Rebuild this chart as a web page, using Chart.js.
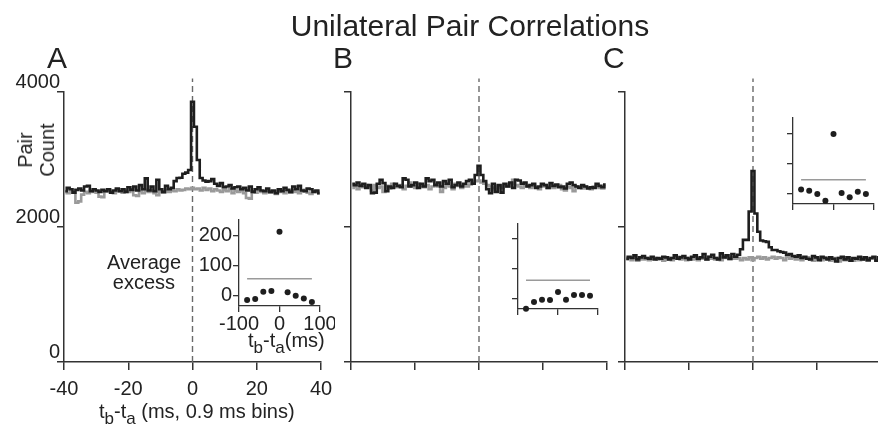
<!DOCTYPE html>
<html>
<head>
<meta charset="utf-8">
<script src="https://cdn.jsdelivr.net/npm/chart.js@4.4.1/dist/chart.umd.min.js"></script>
<style>
  html, body { margin: 0; padding: 0; background: #fff; }
  #fig { position: relative; width: 878px; height: 425px; overflow: hidden; background: #fff;
         font-family: "Liberation Sans", Arial, sans-serif; color: #222; }
  #fig canvas { position: absolute; }
  .txt { position: absolute; white-space: nowrap; line-height: 1; }
  .txt sub { font-size: 17px; vertical-align: -6px; line-height: 0; }
</style>
</head>
<body>
<div id="fig">
  <canvas id="mainA" width="340" height="425" style="left:0px;top:0px"></canvas>
  <canvas id="mainB" width="320" height="425" style="left:300px;top:0px"></canvas>
  <canvas id="mainC" width="320" height="425" style="left:580px;top:0px"></canvas>
  <canvas id="insetA" width="150" height="160" style="left:185px;top:200px"></canvas>
  <canvas id="insetB" width="130" height="110" style="left:490px;top:210px"></canvas>
  <canvas id="insetC" width="108" height="110" style="left:770px;top:105px"></canvas>

  <div class="txt" style="left:470px;top:11px;font-size:30px;transform:translateX(-50%)">Unilateral Pair Correlations</div>
  <div class="txt" style="left:47px;top:43px;font-size:30px">A</div>
  <div class="txt" style="left:333px;top:43px;font-size:30px">B</div>
  <div class="txt" style="left:603px;top:43px;font-size:30px">C</div>
  <div class="txt" style="left:36px;top:150px;font-size:20px;line-height:22px;text-align:center;transform:translate(-50%,-50%) rotate(-90deg)">Pair<br>Count</div>
  <div class="txt" style="left:144px;top:252px;font-size:20px;line-height:20px;text-align:center;transform:translateX(-50%)">Average<br>excess</div>
  <div class="txt" style="left:248px;top:330px;font-size:20px">t<sub>b</sub>-t<sub>a</sub>(ms)</div>
  <div class="txt" style="left:99px;top:401px;font-size:20px">t<sub>b</sub>-t<sub>a</sub> (ms, 0.9 ms bins)</div>
</div>

<script>
// bins are 0.9 ms wide, centred on 0, from -39.6 to 39.6 ms (89 bins)
const BIN_MS = 0.9;
const lagTicks = [-40, -20, 0, 20, 40];
const countTicks = [0, 2000, 4000];
const DASH_TOP = 4200;   // dashed zero line runs a bit above the 4000 tick

// pair counts, left to right
const countsA = [
  2530, 2580, 2560, 2510, 2550, 2570, 2540, 2600, 2610, 2530,
  2560, 2540, 2520, 2550, 2530, 2560, 2510, 2540, 2570, 2530,
  2560, 2520, 2590, 2550, 2600, 2540, 2620, 2560, 2720, 2540,
  2600, 2530, 2700, 2560, 2520, 2610, 2560, 2580,
  2680, 2726, 2730, 2790, 2805, 2844, 3856, 3486, 2993, 2726, 2690, 2672, 2680, 2710,
  2640, 2610, 2650, 2590, 2600, 2620, 2570, 2590, 2600, 2560,
  2580, 2540, 2600, 2520, 2560, 2590, 2540, 2530, 2570, 2520,
  2540, 2500, 2560, 2530, 2580, 2550, 2520, 2600, 2560, 2610,
  2540, 2530, 2570, 2560, 2520, 2540, 2500
];
const shuffledA = [
  2520, 2500, 2540, 2510, 2360, 2380, 2480, 2520, 2500, 2540,
  2520, 2510, 2450, 2440, 2530, 2540, 2520, 2500, 2550, 2530,
  2510, 2540, 2520, 2560, 2470, 2460, 2530, 2500, 2550, 2520,
  2540, 2500, 2470, 2530, 2510, 2550, 2520, 2540, 2530, 2560,
  2540, 2550, 2570, 2560, 2580, 2560, 2570, 2540, 2580, 2550,
  2570, 2530, 2560, 2540, 2520, 2550, 2530, 2560, 2500, 2540,
  2520, 2540, 2500, 2430, 2420, 2530, 2510, 2540, 2520, 2500,
  2540, 2510, 2530, 2490, 2520, 2550, 2500, 2530, 2510, 2540,
  2520, 2500, 2530, 2550, 2510, 2490, 2530, 2520, 2500
];
const countsB = [
  2640, 2620, 2660, 2610, 2640, 2580, 2620, 2500, 2510, 2640,
  2700, 2650, 2530, 2600, 2580, 2640, 2610, 2590, 2720, 2700,
  2600, 2620, 2660, 2580, 2640, 2600, 2720, 2680, 2700, 2620,
  2660, 2600, 2680, 2640, 2700, 2590, 2620, 2660, 2600, 2640,
  2680, 2700, 2640, 2770, 2908, 2770, 2680, 2560, 2500, 2640,
  2520, 2620, 2510, 2640, 2600, 2660, 2580, 2700, 2690, 2640,
  2660, 2600, 2620, 2640, 2580, 2600, 2640, 2620, 2580, 2650,
  2610, 2630, 2590, 2600, 2570, 2640, 2660, 2620, 2600, 2580,
  2620, 2600, 2570, 2590, 2580, 2640, 2610, 2590, 2630
];
const shuffledB = [
  2580, 2600, 2560, 2610, 2590, 2620, 2600, 2540, 2620, 2580,
  2600, 2520, 2610, 2570, 2640, 2590, 2600, 2620, 2560, 2610,
  2660, 2600, 2580, 2640, 2610, 2590, 2620, 2560, 2600, 2630,
  2600, 2520, 2580, 2620, 2600, 2560, 2640, 2610, 2580, 2620,
  2600, 2630, 2660, 2680, 2690, 2660, 2640, 2620, 2600, 2580,
  2560, 2600, 2580, 2620, 2600, 2640, 2700, 2620, 2600, 2580,
  2620, 2600, 2580, 2610, 2590, 2560, 2600, 2620, 2580, 2600,
  2580, 2600, 2620, 2560, 2540, 2600, 2580, 2530, 2600, 2590,
  2570, 2600, 2580, 2560, 2600, 2610, 2580, 2570, 2600
];
const countsC = [
  1530, 1560, 1540, 1580, 1520, 1550, 1570, 1540, 1530, 1560,
  1520, 1540, 1530, 1560, 1550, 1520, 1540, 1580, 1530, 1550,
  1570, 1540, 1520, 1560, 1580, 1530, 1550, 1600, 1520, 1560,
  1590, 1540, 1520, 1610, 1550, 1580, 1530, 1600, 1560, 1590,
  1670, 1810, 1810, 2230, 2830, 2200, 1930, 1800, 1790, 1780,
  1700, 1660, 1660, 1640, 1630, 1620, 1590, 1600, 1570, 1560,
  1580, 1540, 1560, 1530, 1520, 1570, 1550, 1510, 1560, 1540,
  1520, 1550, 1530, 1490, 1540, 1560, 1520, 1550, 1500, 1540,
  1530, 1560, 1520, 1550, 1510, 1540, 1560, 1500, 1550
];
const shuffledC = [
  1520, 1540, 1510, 1550, 1500, 1530, 1520, 1540, 1510, 1530,
  1540, 1520, 1530, 1500, 1520, 1540, 1510, 1530, 1560, 1520,
  1530, 1510, 1540, 1520, 1550, 1510, 1530, 1540, 1520, 1560,
  1530, 1520, 1540, 1510, 1570, 1540, 1520, 1550, 1530, 1540,
  1510, 1540, 1520, 1550, 1510, 1540, 1560, 1530, 1550, 1520,
  1540, 1560, 1530, 1550, 1540, 1510, 1560, 1530, 1550, 1520,
  1540, 1510, 1530, 1550, 1520, 1500, 1540, 1530, 1510, 1550,
  1530, 1500, 1520, 1540, 1490, 1530, 1510, 1550, 1520, 1500,
  1530, 1510, 1540, 1520, 1500, 1530, 1550, 1510, 1530
];

// insets: average excess per 20 ms lag
const insetLagTicks = [-100, 0, 100];
const insetExcessTicks = [0, 100, 200];
const insetLags = [-80, -60, -40, -20, 0, 20, 40, 60, 80];
const excessA = [-13, -10, 14, 16, 211, 12, 1, -8, -20];
const excessB = [-32, -10, -2, -3, 24, -2, 14, 14, 11];
const excessC = [15, 11, 0, -22, 197, 3, -11, 7, 0];
const thresholdA = 57;
const thresholdB = 63;
const thresholdC = 47;

const DARK = '#1e1e1e';
const GRAY = '#9a9a9a';
const AXIS = '#333';
const TEXT = '#222';

Chart.defaults.font.family = '"Liberation Sans", Arial, sans-serif';
Chart.defaults.font.size = 20;
Chart.defaults.color = TEXT;

function binPoints(counts) {
  const mid = (counts.length - 1) / 2;
  return counts.map((c, i) => ({ x: (i - mid) * BIN_MS, y: c }));
}

function setTicks(values) {
  return s => { s.ticks = values.map(v => ({ value: v })); };
}

// pin an axis to a fixed thickness so the plot areas line up between canvases
function fixedAxis(size, horizontal) {
  return s => {
    if (horizontal) s.height = size; else s.width = size;
    s.paddingLeft = s.paddingRight = s.paddingTop = s.paddingBottom = 0;
  };
}

function makeMain(id, g, counts, shuffled, labels) {
  return new Chart(document.getElementById(id), {
    type: 'line',
    data: {
      datasets: [
        { data: binPoints(counts), borderColor: DARK, borderWidth: 2.6, stepped: 'middle', pointRadius: 0 },
        { data: binPoints(shuffled), borderColor: GRAY, borderWidth: 2.6, stepped: 'middle', pointRadius: 0 },
        { data: [{ x: 0, y: 0 }, { x: 0, y: DASH_TOP }], borderColor: '#6a6a6a', borderWidth: 1.4,
          borderDash: [6, 4], pointRadius: 0, clip: false }
      ]
    },
    options: {
      responsive: false,
      animation: false,
      devicePixelRatio: 1,
      layout: { padding: { left: 0, top: g.padTop, right: g.padRight, bottom: 0 } },
      plugins: { legend: { display: false }, tooltip: { enabled: false } },
      scales: {
        x: {
          type: 'linear', min: -40, max: 40,
          afterBuildTicks: setTicks(lagTicks),
          afterFit: fixedAxis(g.xAxisH, true),
          ticks: { display: labels, callback: v => String(v), padding: 7, autoSkip: false, maxRotation: 0 },
          grid: { drawOnChartArea: false, tickLength: 8, color: AXIS, lineWidth: 1.5 },
          border: { color: AXIS, width: 1.5 }
        },
        y: {
          type: 'linear', min: 0, max: 4000,
          afterBuildTicks: setTicks(countTicks),
          afterFit: fixedAxis(g.yAxisW, false),
          ticks: { display: labels, callback: v => String(v), padding: -3, labelOffset: -10 },
          grid: { drawOnChartArea: false, tickLength: 7, color: AXIS, lineWidth: 1.5 },
          border: { color: AXIS, width: 1.5 }
        }
      }
    }
  });
}

function makeInset(id, g, excess, threshold, labels) {
  return new Chart(document.getElementById(id), {
    type: 'scatter',
    data: {
      datasets: [
        { data: insetLags.map((x, i) => ({ x: x, y: excess[i] })), pointRadius: 3,
          pointBackgroundColor: DARK, pointBorderWidth: 0, clip: false },
        { data: [{ x: insetLags[0], y: threshold }, { x: insetLags[insetLags.length - 1], y: threshold }],
          showLine: true, borderColor: GRAY, borderWidth: 1.5, pointRadius: 0 }
      ]
    },
    options: {
      responsive: false,
      animation: false,
      devicePixelRatio: 1,
      layout: { padding: { left: 0, top: g.padTop, right: g.padRight, bottom: 0 } },
      plugins: { legend: { display: false }, tooltip: { enabled: false } },
      scales: {
        x: {
          type: 'linear', min: -100, max: 100,
          afterBuildTicks: setTicks(insetLagTicks),
          afterFit: fixedAxis(g.xAxisH, true),
          ticks: { display: labels, callback: v => String(v), padding: 0, autoSkip: false, maxRotation: 0 },
          grid: { drawOnChartArea: false, tickLength: 6, color: AXIS, lineWidth: 1.3 },
          border: { color: AXIS, width: 1.3 }
        },
        y: {
          type: 'linear', min: -33, max: 250,
          afterBuildTicks: setTicks(insetExcessTicks),
          afterFit: fixedAxis(g.yAxisW, false),
          ticks: { display: labels, callback: v => String(v), padding: 1 },
          grid: { drawOnChartArea: false, tickLength: 6, color: AXIS, lineWidth: 1.3 },
          border: { color: AXIS, width: 1.3 }
        }
      }
    }
  });
}

makeMain('mainA', { yAxisW: 64, padRight: 19, padTop: 92, xAxisH: 63 }, countsA, shuffledA, true);
makeMain('mainB', { yAxisW: 51, padRight: 13, padTop: 92, xAxisH: 63 }, countsB, shuffledB, false);
makeMain('mainC', { yAxisW: 45, padRight: 19, padTop: 92, xAxisH: 63 }, countsC, shuffledC, false);

makeInset('insetA', { yAxisW: 54, padRight: 15, padTop: 20, xAxisH: 54 }, excessA, thresholdA, true);
makeInset('insetB', { yAxisW: 28, padRight: 22, padTop: 14, xAxisH: 11 }, excessB, thresholdB, false);
makeInset('insetC', { yAxisW: 23, padRight: 4, padTop: 13, xAxisH: 11 }, excessC, thresholdC, false);
</script>
</body>
</html>
